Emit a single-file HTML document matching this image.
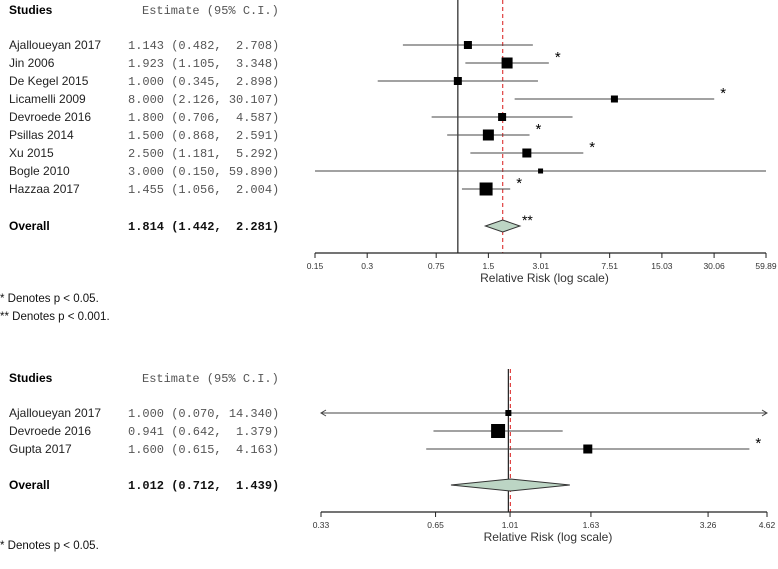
<!DOCTYPE html>
<html><head><meta charset="utf-8"><style>
body{margin:0;background:#fff;}
svg{display:block;font-family:"Liberation Sans",sans-serif;}
text{white-space:pre;}
.mono{font-family:"Liberation Mono",monospace;font-size:12px;fill:#555;}
.name{font-size:12px;fill:#222;}
.tick{font-size:8.5px;fill:#333;}
.foot{font-size:11.5px;fill:#111;}
</style></head><body>
<svg id="s" width="778" height="569"></svg>
<script>
const studies1=["Ajalloueyan 2017","Jin 2006","De Kegel 2015","Licamelli 2009","Devroede 2016","Psillas 2014","Xu 2015","Bogle 2010","Hazzaa 2017"];
const est1=[1.143,1.923,1.000,8.000,1.800,1.500,2.500,3.000,1.455];
const lo1=[0.482,1.105,0.345,2.126,0.706,0.868,1.181,0.150,1.056];
const hi1=[2.708,3.348,2.898,30.107,4.587,2.591,5.292,59.890,2.004];
const size1=[8,11,8,7,8,11,9,5,13];
const star1=["","*","","*","","*","*","","*"];
const overall1=[1.814,1.442,2.281];
const ticks1=[0.15,0.3,0.75,1.5,3.01,7.51,15.03,30.06,59.89];
const studies2=["Ajalloueyan 2017","Devroede 2016","Gupta 2017"];
const est2=[1.000,0.941,1.600];
const lo2=[0.070,0.642,0.615];
const hi2=[14.340,1.379,4.163];
const size2=[6,14,9];
const star2=["","","*"];
const overall2=[1.012,0.712,1.439];
const ticks2=[0.33,0.65,1.01,1.63,3.26,4.62];
const NS="http://www.w3.org/2000/svg";
const svg=document.getElementById('s');
function mk(t,a,p){const e=document.createElementNS(NS,t);for(const k in a)e.setAttribute(k,a[k]);(p||svg).appendChild(e);return e;}
function txt(x,y,s,cls,extra){const e=mk('text',Object.assign({x:x,y:y,class:cls||''},extra||{}));e.textContent=s;return e;}
function f3(v){return v.toFixed(3);}
function pad(s,n){while(s.length<n)s=' '+s;return s;}
function plot(cfg){
  const g=mk('g',{});
  
  
  const x0=cfg.x0,x1=cfg.x1,lmin=Math.log(cfg.ticks[0]),lmax=Math.log(cfg.ticks[cfg.ticks.length-1]);
  const xs=v=>x0+(Math.log(Math.max(v,cfg.ticks[0]))-lmin)/(lmax-lmin)*(x1-x0);
  const xsRaw=v=>x0+(Math.log(v)-lmin)/(lmax-lmin)*(x1-x0);
  const h1=txt(9,cfg.headY,'Studies','',{'font-weight':'bold','font-size':'12px'});
  g.appendChild(h1);
  const h2=txt(142,cfg.headY,'Estimate (95% C.I.)','mono');
  g.appendChild(h2);
  const vl=mk('line',{x1:xs(1),x2:xs(1),y1:cfg.lineTop,y2:cfg.axisY,stroke:'#222','stroke-width':1.2},g);
  
  const rl=mk('line',{x1:xs(cfg.overall[0]),x2:xs(cfg.overall[0]),y1:cfg.lineTop,y2:cfg.axisY,stroke:'#e04040','stroke-width':1.2,'stroke-dasharray':'4,3'},g);
  
  cfg.studies.forEach((s,i)=>{
    const y=cfg.rowY+i*cfg.dy;
    const n=txt(9,y+4,s,'name');
    g.appendChild(n);
    const e=txt(128,y+4,f3(cfg.est[i])+' ('+f3(cfg.lo[i])+', '+pad(f3(cfg.hi[i]),6)+')','mono');
    g.appendChild(e);
    const lx=xs(cfg.lo[i]),hx=xsRaw(cfg.hi[i])>x1?x1:xsRaw(cfg.hi[i]);
    const ci=mk('line',{x1:lx,x2:hx,y1:y,y2:y,stroke:'#444','stroke-width':1},g);
    
    if(cfg.lo[i]<cfg.ticks[0]){mk('path',{d:`M${lx+5},${y-3}L${lx},${y}L${lx+5},${y+3}`,fill:'none',stroke:'#444'},g);}
    if(cfg.hi[i]>cfg.ticks[cfg.ticks.length-1]&&cfg.arrows){mk('path',{d:`M${hx-5},${y-3}L${hx},${y}L${hx-5},${y+3}`,fill:'none',stroke:'#444'},g);}
    const sz=cfg.size[i];
    const m=mk('rect',{x:xs(cfg.est[i])-sz/2,y:y-sz/2,width:sz,height:sz,fill:'#000'},g);
    
    if(cfg.star[i]){const st=txt(hx+6,y-1,'*','',{'font-size':'15px'});g.appendChild(st);}
  });
  const oy=cfg.overallY;
  const on=txt(9,oy+4,'Overall','',{'font-weight':'bold','font-size':'12px'});
  g.appendChild(on);
  const oe=txt(128,oy+4,f3(cfg.overall[0])+' ('+f3(cfg.overall[1])+', '+pad(f3(cfg.overall[2]),6)+')','mono',{'font-weight':'bold',style:'fill:#111'});
  g.appendChild(oe);
  const d=mk('polygon',{points:`${xs(cfg.overall[1])},${oy} ${xs(cfg.overall[0])},${oy-6} ${xs(cfg.overall[2])},${oy} ${xs(cfg.overall[0])},${oy+6}`,fill:'#bcd5c4',stroke:'#333','stroke-width':1},g);
  
  if(cfg.overallStar){const st=txt(xs(cfg.overall[2])+2,oy-1,'**','',{'font-size':'14px'});g.appendChild(st);}
  const ax=mk('line',{x1:x0,x2:x1,y1:cfg.axisY,y2:cfg.axisY,stroke:'#222','stroke-width':1.2},g);
  
  cfg.ticks.forEach(t=>{
    const x=xs(t);
    mk('line',{x1:x,x2:x,y1:cfg.axisY,y2:cfg.axisY+5,stroke:'#222'},g);
    const tl=txt(x,cfg.axisY+16,String(t),'tick',{'text-anchor':'middle'});
    g.appendChild(tl);
  });
  const at=txt((x0+x1)/2+4,cfg.axisY+29,'Relative Risk (log scale)','',{'text-anchor':'middle','font-size':'12px',fill:'#333'});
  g.appendChild(at);
}
plot({name:'forest-plot-1',x0:315,x1:766,ticks:ticks1,studies:studies1,est:est1,lo:lo1,hi:hi1,size:size1,star:star1,overall:overall1,headY:14,rowY:45,dy:18,overallY:226,axisY:253,lineTop:0,overallStar:true,arrows:false});
plot({name:'forest-plot-2',x0:321,x1:767,ticks:ticks2,studies:studies2,est:est2,lo:lo2,hi:hi2,size:size2,star:star2,overall:overall2,headY:382,rowY:413,dy:18,overallY:485,axisY:512,lineTop:369,overallStar:false,arrows:true});
[['* Denotes p < 0.05.',302,'footnote-p05'],['** Denotes p < 0.001.',320,'footnote-p001'],['* Denotes p < 0.05.',549,'footnote-p05-bottom']].forEach(f=>{
  const t=txt(0,f[1],f[0],'foot');
  
  
});
</script>
</body></html>
